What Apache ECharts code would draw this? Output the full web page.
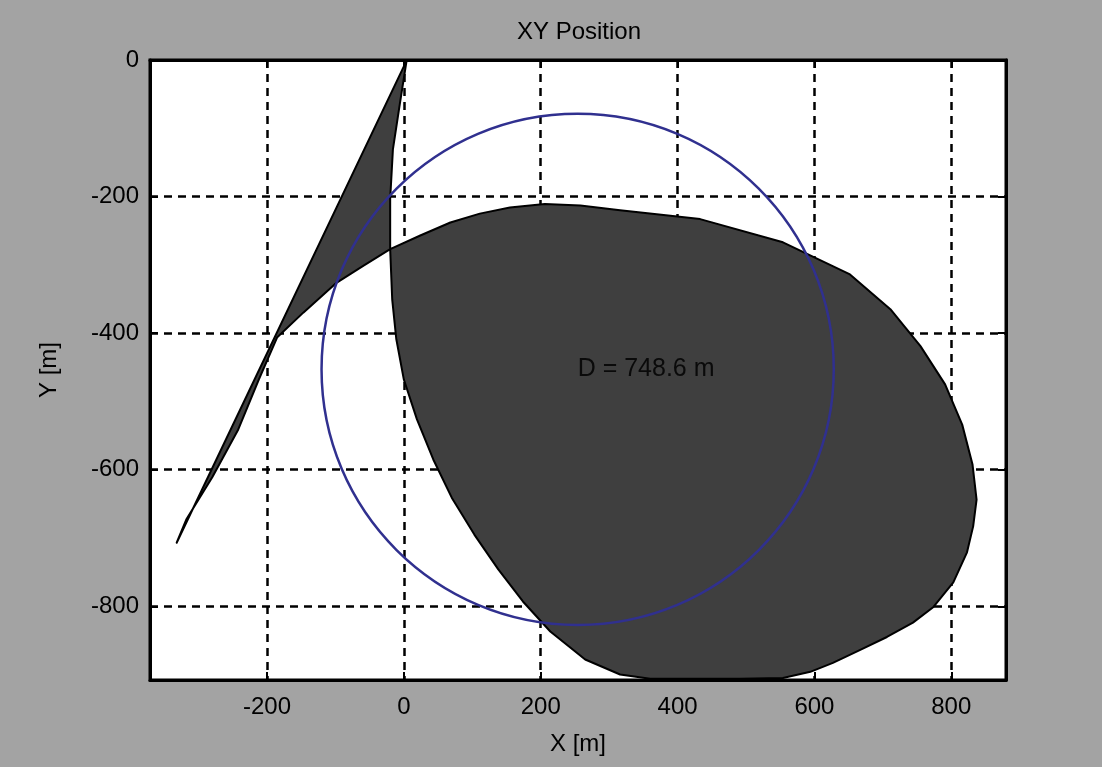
<!DOCTYPE html>
<html>
<head>
<meta charset="utf-8">
<script src="https://cdn.jsdelivr.net/npm/echarts@6/dist/echarts.min.js"></script>
<style>
html,body{margin:0;padding:0;background:#a3a3a3;}
#chart{width:1102px;height:767px;}
</style>
</head>
<body>
<div id="chart"></div>
<script>
// ---- data ----
var titleText = 'XY Position';
var xTicks = [-200, 0, 200, 400, 600, 800];
var yTicks = [-800, -600, -400, -200, 0];
var xRange = [-371, 880];
var yRange = [-908, 0];

// outline of the filled trajectory patch (m)
var patchX = [4, -332, -318, -280, -242, -212, -185, -147, -98, -60, -20,
  24, 68, 111, 155, 206, 258, 316, 433, 554, 652, 711, 755, 791, 816, 831, 837,
  832, 823, 803, 774, 744, 706, 667, 627, 594, 554, 491, 433, 360,
  316, 265, 214, 174, 138, 103, 70, 43, 19, 0, -11, -17, -20, -20, -16, -6];
var patchY = [-1, -707, -673, -611, -541, -468, -406, -370, -326, -302, -277,
  -257, -238, -225, -216, -211, -213, -220, -233, -267, -314, -365, -419, -475, -534, -592, -644,
  -683, -721, -765, -801, -824, -845, -864, -883, -896, -905, -906, -906, -906,
  -900, -878, -837, -793, -746, -695, -641, -585, -526, -468, -409, -351, -277, -204, -131, -65];

// circle: centre and diameter (m)
var circleCenter = [254, -453];
var circleD = 748.6;
var circleLabel = 'D = 748.6 m';

var font = '"Liberation Sans", Arial, sans-serif';
var chart = echarts.init(document.getElementById('chart'));

var patchData = patchX.map(function (x, i) { return [x, patchY[i]]; });

var tickStyle = {color: '#000', width: 2};
var gridDash = {color: '#000', width: 2.5, type: [8, 6]};
var axisLineStyle = {color: '#000', width: 3};

var option = {
  backgroundColor: '#a3a3a3',
  animation: false,
  title: {
    text: titleText, left: 574, top: 15, textAlign: 'center',
    textStyle: {fontFamily: font, fontSize: 24, fontWeight: 'normal', color: '#000'}
  },
  grid: {left: 150, top: 60, right: 96, bottom: 87, show: true,
    backgroundColor: '#ffffff', borderColor: '#000', borderWidth: 3},
  xAxis: [{
    type: 'value', min: xRange[0], max: xRange[1], position: 'bottom',
    name: 'X [m]', nameLocation: 'middle', nameGap: 52,
    nameTextStyle: {fontFamily: font, fontSize: 24, color: '#000'},
    axisLine: {show: true, onZero: false, lineStyle: axisLineStyle},
    axisTick: {show: true, inside: true, length: 8, customValues: xTicks, lineStyle: tickStyle},
    axisLabel: {customValues: xTicks, fontFamily: font, fontSize: 24, color: '#000', margin: 15},
    splitLine: {show: true, lineStyle: gridDash}
  }, {
    type: 'value', min: xRange[0], max: xRange[1], position: 'top',
    axisLine: {show: true, onZero: false, lineStyle: axisLineStyle},
    axisTick: {show: true, inside: true, length: 8, customValues: xTicks, lineStyle: tickStyle},
    axisLabel: {show: false}, splitLine: {show: false}
  }],
  yAxis: [{
    type: 'value', min: yRange[0], max: yRange[1], position: 'left',
    name: 'Y [m]', nameLocation: 'middle', nameGap: 89, nameRotate: 90,
    nameTextStyle: {fontFamily: font, fontSize: 24, color: '#000'},
    axisLine: {show: true, onZero: false, lineStyle: axisLineStyle},
    axisTick: {show: true, inside: true, length: 8, customValues: yTicks, lineStyle: tickStyle},
    axisLabel: {customValues: yTicks, fontFamily: font, fontSize: 24, color: '#000', margin: 11},
    splitLine: {show: true, lineStyle: gridDash}
  }, {
    type: 'value', min: yRange[0], max: yRange[1], position: 'right',
    axisLine: {show: true, onZero: false, lineStyle: axisLineStyle},
    axisTick: {show: true, inside: true, length: 8, customValues: yTicks, lineStyle: tickStyle},
    axisLabel: {show: false}, splitLine: {show: false}
  }],
  series: [{
    type: 'custom', name: 'patch', xAxisIndex: 0, yAxisIndex: 0,
    data: patchData, z: 2,
    renderItem: function (params, api) {
      if (params.dataIndex !== 0) return null;
      var pts = patchData.map(function (p) { return api.coord(p); });
      return {type: 'polygon', shape: {points: pts},
        style: {fill: '#3f3f3f', stroke: '#000', lineWidth: 2, lineJoin: 'round'}};
    }
  }, {
    type: 'custom', name: 'circle', xAxisIndex: 0, yAxisIndex: 0,
    data: [[circleCenter[0], circleCenter[1], circleD]], z: 3,
    renderItem: function (params, api) {
      var c = api.coord([api.value(0), api.value(1)]);
      var s = api.size([api.value(2) / 2, api.value(2) / 2]);
      return {type: 'group', children: [{
        type: 'ellipse', shape: {cx: c[0], cy: c[1], rx: s[0], ry: s[1]},
        style: {fill: 'none', stroke: '#30308f', lineWidth: 2.5}
      }, {
        type: 'text', x: c[0], y: c[1],
        style: {text: circleLabel, fill: '#0a0a0a', font: '25px ' + font,
          align: 'left', verticalAlign: 'middle', textAlign: 'left', textVerticalAlign: 'middle'}
      }]};
    }
  }]
};
chart.setOption(option);
</script>
</body>
</html>
